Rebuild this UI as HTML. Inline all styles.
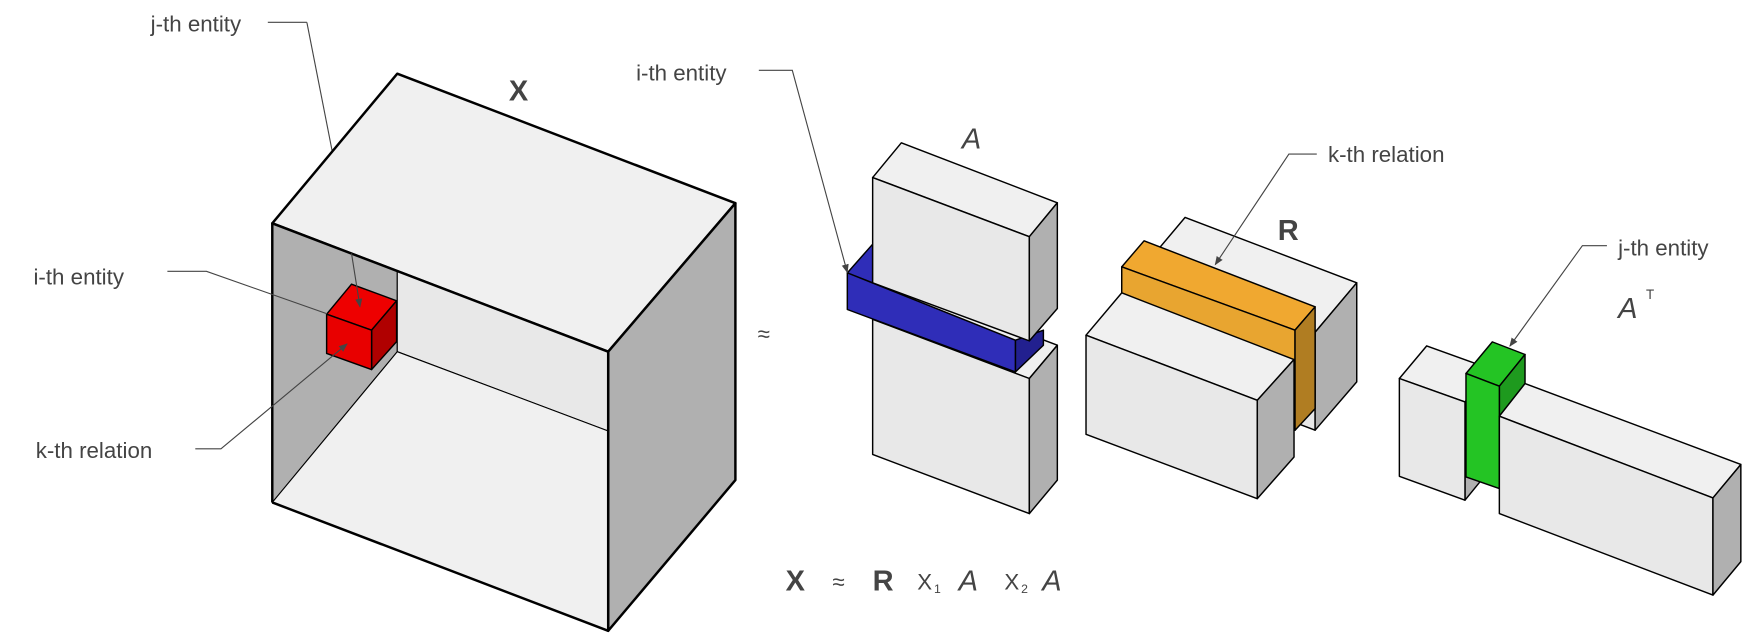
<!DOCTYPE html>
<html><head><meta charset="utf-8"><style>
html,body{margin:0;padding:0;background:#fff;}
svg{display:block;}
text{font-family:"Liberation Sans",sans-serif;fill:#444;}
</style></head><body>
<svg width="1752" height="642" viewBox="0 0 1570 575" preserveAspectRatio="none" xmlns="http://www.w3.org/2000/svg">
<defs>
<marker id="ah" viewBox="0 0 10 10" refX="9" refY="5" markerWidth="8" markerHeight="8" orient="auto-start-reverse" markerUnits="userSpaceOnUse"><path d="M0,1 L10,5 L0,9 z" fill="#444"/></marker>
</defs>
<g stroke="#000" stroke-linejoin="round">
<line x1="275" y1="20" x2="298" y2="137" stroke="#444" stroke-width="1"/>
<g>
<polygon points="244,200 356,66 659,182 545,315" fill="#f0f0f0" stroke-width="2.2"/>
<polygon points="545,315 659,182 659,430 545,565" fill="#b0b0b0" stroke-width="2.2"/>
<polygon points="244,200 356,243 356,315 244,450" fill="#b0b0b0" stroke-width="1"/>
<polygon points="356,243 545,315 545,386 356,315" fill="#e8e8e8" stroke-width="1"/>
<polygon points="244,450 356,315 545,386 545,565" fill="#f0f0f0" stroke-width="1"/>
<polyline points="244,450 244,200 545,315 545,565 244,450" fill="none" stroke-width="2.2"/>
</g>
<g stroke-width="1.3">
<polygon points="292.7,281.4 315,254.5 355.4,269.4 333,295.7" fill="#ee0000"/>
<polygon points="333,295.7 355.4,269.4 355.4,306 333,331" fill="#b00000"/>
<polygon points="292.7,281.4 333,295.7 333,331 292.7,316.6" fill="#e80000"/>
</g>
<g stroke-width="1.3">
<polygon points="782,286 807,256 947.5,309.2 922.4,339" fill="#f0f0f0"/>
<polygon points="782,286 922.4,339 922.4,460 782,407" fill="#e8e8e8"/>
<polygon points="922.4,339 947.5,309.2 947.5,430 922.4,460" fill="#b0b0b0"/>
</g>
<g stroke-width="1.3">
<polygon points="759.3,244.4 782,218.7 782,253.3" fill="#2f2db8"/>
<polygon points="909.9,304.7 935,295.7 935,309.2 909.9,333.1" fill="#22208f"/>
<polygon points="759.3,244.4 909.9,304.7 909.9,333.1 759.3,277.2" fill="#2f2db8"/>
</g>
<g stroke-width="1.3">
<polygon points="782,159 807.7,127.9 947.5,181.6 922.4,212" fill="#f0f0f0"/>
<polygon points="782,159 922.4,212 922.4,305.3 782,253.3" fill="#e8e8e8"/>
<polygon points="922.4,212 947.5,181.6 947.5,276.3 922.4,305.3" fill="#b0b0b0"/>
</g>
<g stroke-width="1.3">
<polygon points="1024.7,239 1062,194.7 1215.8,253.3 1178.5,297.6" fill="#f0f0f0"/>
<polygon points="1024.7,239 1178.5,297.6 1178.5,385.3 1024.7,327" fill="#e8e8e8"/>
<polygon points="1178.5,297.6 1215.8,253.3 1215.8,342 1178.5,385.3" fill="#b0b0b0"/>
</g>
<g stroke-width="1.3">
<polygon points="1005.2,239 1025.2,215.7 1178.5,274.8 1160.5,295.7" fill="#f0a830"/>
<polygon points="1005.2,239 1160.5,295.7 1160.5,385.3 1005.2,330" fill="#e8a530"/>
<polygon points="1160.5,295.7 1178.5,274.8 1178.5,366 1160.5,385.3" fill="#b07d22"/>
</g>
<g stroke-width="1.3">
<polygon points="973.2,300.2 1005.2,262.3 1159.6,322 1126.7,358.5" fill="#f0f0f0"/>
<polygon points="973.2,300.2 1126.7,358.5 1126.7,446.6 973.2,389" fill="#e8e8e8"/>
<polygon points="1126.7,358.5 1159.6,322 1159.6,409.3 1126.7,446.6" fill="#b0b0b0"/>
</g>
<g stroke-width="1.3">
<polygon points="1254,339 1278.5,309.8 1337.3,331 1312.8,360" fill="#f0f0f0"/>
<polygon points="1312.8,360 1337.3,331 1337.3,418 1312.8,448" fill="#b0b0b0"/>
<polygon points="1254,339 1312.8,360 1312.8,448 1254,426.6" fill="#e8e8e8"/>
</g>
<g stroke-width="1.3">
<polygon points="1313.7,334.5 1337.3,306.2 1366.6,317.5 1343.6,345.9" fill="#24c424"/>
<polygon points="1343.6,345.9 1366.6,317.5 1366.6,343.5 1343.6,372.8" fill="#1e9a1e"/>
<polygon points="1313.7,334.5 1343.6,345.9 1343.6,437.6 1313.7,427.2" fill="#24c424"/>
</g>
<g stroke-width="1.3">
<polygon points="1343.6,372.8 1366.6,343.5 1560,416 1535,446" fill="#f0f0f0"/>
<polygon points="1343.6,372.8 1535,446 1535,533 1343.6,460" fill="#e8e8e8"/>
<polygon points="1535,446 1560,416 1560,503 1535,533" fill="#b0b0b0"/>
</g>
</g>
<g stroke="#444" stroke-width="1" fill="none">
<polyline points="150,243 185,243 293,281"/>
<line x1="315" y1="227" x2="322.6" y2="274.8" marker-end="url(#ah)"/>
<polyline points="175,402 198,402 311,308" marker-end="url(#ah)"/>
<polyline points="680,63 710,63 759.3,244" marker-end="url(#ah)"/>
<polyline points="1180,138 1155,138 1089,237" marker-end="url(#ah)"/>
<polyline points="1440,220 1418,220 1353,310" marker-end="url(#ah)"/>
<line x1="240" y1="20" x2="275" y2="20"/>
</g>
<text x="135" y="28" font-size="20">j-th entity</text>
<text x="30" y="255" font-size="20">i-th entity</text>
<text x="32" y="410" font-size="20">k-th relation</text>
<text x="570" y="72" font-size="20">i-th entity</text>
<text x="1190" y="145" font-size="20">k-th relation</text>
<text x="1450" y="229" font-size="20">j-th entity</text>
<text x="456" y="90" font-size="26" font-weight="bold">X</text>
<text x="862" y="133" font-size="26" font-style="italic">A</text>
<text x="1145" y="215" font-size="26" font-weight="bold">R</text>
<text x="1450" y="285" font-size="26" font-style="italic">A</text>
<text x="1475" y="268" font-size="12">T</text>
<text x="679" y="306" font-size="20">≈</text>
<g>
<text x="704" y="529" font-size="26" font-weight="bold">X</text>
<text x="746" y="528" font-size="20">≈</text>
<text x="782" y="529" font-size="26" font-weight="bold">R</text>
<text x="822" y="528" font-size="20">X</text>
<text x="837" y="531" font-size="11">1</text>
<text x="859" y="529" font-size="26" font-style="italic">A</text>
<text x="900" y="528" font-size="20">X</text>
<text x="915" y="531" font-size="11">2</text>
<text x="934" y="529" font-size="26" font-style="italic">A</text>
</g>
</svg>
</body></html>
